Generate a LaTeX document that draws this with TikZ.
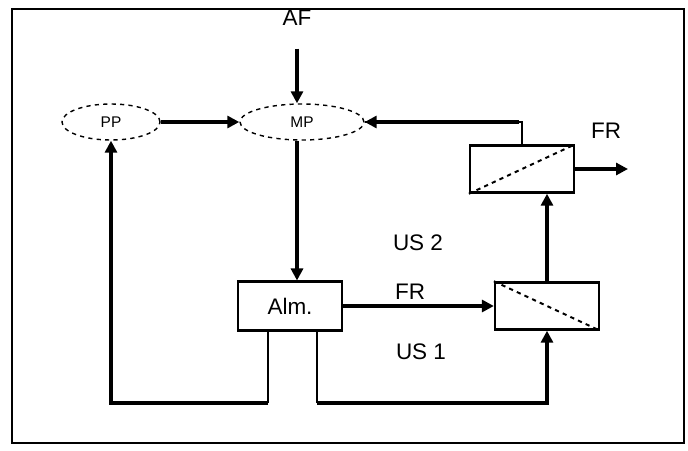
\documentclass[tikz,border=0pt]{standalone}
\usepackage{fontspec}
\setmainfont{Liberation Sans}
\usetikzlibrary{arrows.meta,shapes.geometric}
\tikzset{
  blk/.style   = {draw, line width=1.6pt, minimum width=26mm, minimum height=12.2mm,
                  inner sep=0pt, font=\fontsize{16}{18}\selectfont},
  conv/.style  = {blk, minimum height=11.8mm},
  oval/.style  = {ellipse, draw, dashed, line width=1pt, minimum height=9mm,
                  inner sep=0pt, font=\fontsize{11}{12}\selectfont},
  lbl/.style   = {font=\fontsize{16}{18}\selectfont},
  flow/.style  = {line width=3pt, -{Triangle[length=3mm,width=3mm]}},
  thin/.style  = {line width=1.6pt},
}
\begin{document}
\begin{tikzpicture}[x=0.25mm, y=-0.25mm]
  \useasboundingbox (0,0) rectangle (688,451);
  \draw[line width=1.2pt] (12,9) rectangle (684,443);

  % ellipses
  \node[oval, minimum width=24.5mm] (pp) at (111,122) {PP};
  \node[oval, minimum width=31mm]   (mp) at (302,122) {MP};

  % blocks
  \node[blk]  (alm)   at (290,306) {Alm.};
  \node[conv] (conv1) at (547,306) {};
  \node[conv] (conv2) at (522,169) {};
  \draw[dashed, line width=1.4pt] (conv1.north west) -- (conv1.south east);
  \draw[dashed, line width=1.4pt] (conv2.south west) -- (conv2.north east);

  % texts
  \node[lbl] (af)  at (297,18)  {AF};
  \node[lbl] (fr1) at (410,292) {FR};
  \node[lbl] (fr2) at (606,131) {FR};
  \node[lbl] (us2) at (418,243) {US 2};
  \node[lbl] (us1) at (421,352) {US 1};

  \coordinate (bl) at (268,403);
  \coordinate (br) at (317,403);
  \coordinate (out) at (628,169);

  % connectors
  \draw[flow, shorten <=4.5mm] (af.south) -- (mp.north -| af.south);
  \draw[flow] (pp.east) -- (mp.west);
  \draw[flow] (mp.south -| af.south) -- (alm.north -| af.south);
  \draw[flow] (alm.east) -- (conv1.west);
  \draw[flow] (conv1.north) -- (conv1.north |- conv2.south);
  \draw[flow] (conv2.east) -- (out);
  \draw[thin] (conv2.north) |- (mp.east);
  \draw[flow] ([xshift=-2pt]conv2.north |- mp.east) -- (mp.east);

  \draw[thin] (alm.south -| bl) -- (bl);
  \draw[flow] (bl) -| (pp.south);
  \draw[thin] (alm.south -| br) -- (br);
  \draw[flow] (br) -| (conv1.south);
\end{tikzpicture}
\end{document}
